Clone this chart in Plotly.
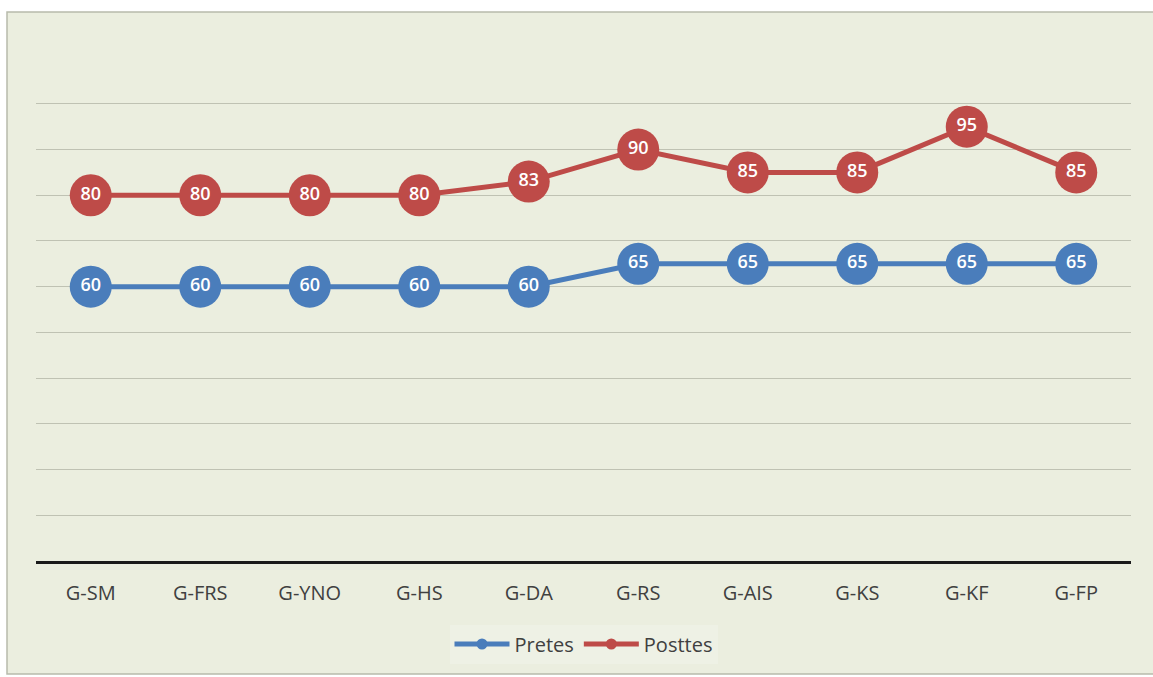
import plotly.graph_objects as go

categories = ["G-SM", "G-FRS", "G-YNO", "G-HS", "G-DA", "G-RS", "G-AIS", "G-KS", "G-KF", "G-FP"]
pretes = [60, 60, 60, 60, 60, 65, 65, 65, 65, 65]
posttes = [80, 80, 80, 80, 83, 90, 85, 85, 95, 85]
series_names = ["Pretes", "Posttes"]

BLUE = "#4A7DBB"
RED = "#BE4B48"
BG = "#EBEEDF"

W, H = 1153, 677
ML, MR, MT, MB = 36, 22, 102, 116
PW, PH = W - ML - MR, H - MT - MB
YMAX = 100.4

def px_x(p):
    return (p - ML) / PW

def px_y(p):
    return (H - MB - p) / PH

fig = go.Figure()

for name, vals, col in [(series_names[0], pretes, BLUE), (series_names[1], posttes, RED)]:
    fig.add_trace(go.Scatter(
        x=categories, y=vals, mode="lines+markers+text",
        text=[str(v) for v in vals], textposition="middle center",
        textfont=dict(family="Open Sans", size=18, color="white", weight=600),
        line=dict(color=col, width=5),
        marker=dict(size=42, color=col, line=dict(width=0)),
        showlegend=False, hoverinfo="skip", cliponaxis=False,
    ))
    fig.add_trace(go.Scatter(
        x=[None], y=[None], mode="lines+markers", name=name,
        line=dict(color=col, width=5),
        marker=dict(size=11, color=col),
    ))

fig.add_shape(type="rect", xref="paper", yref="paper", layer="below",
              x0=px_x(7), x1=px_x(W + 5), y0=px_y(674), y1=px_y(12),
              fillcolor=BG, line=dict(color="#B8BBAC", width=1.5))

fig.update_layout(
    width=W, height=H,
    margin=dict(l=ML, r=MR, t=MT, b=MB),
    paper_bgcolor="white",
    plot_bgcolor="rgba(0,0,0,0)",
    font=dict(family="Open Sans", color="#404040"),
    xaxis=dict(
        showgrid=False, showline=True, linecolor="#1a1a1a", linewidth=3,
        tickfont=dict(size=20, color="#404040"), ticks="", ticklabelstandoff=12,
        range=[-0.5, 9.5], fixedrange=True,
    ),
    yaxis=dict(
        range=[0, YMAX], dtick=10, showticklabels=False, showgrid=True,
        gridcolor="#BFC2B3", gridwidth=1, zeroline=False, fixedrange=True,
    ),
    legend=dict(
        orientation="h", x=0.5, xanchor="center", y=px_y(644), yanchor="middle",
        font=dict(size=20, color="#404040"), bgcolor="#EEF1E5",
        itemwidth=55, traceorder="normal",
    ),
)

fig.write_html("out.html")
